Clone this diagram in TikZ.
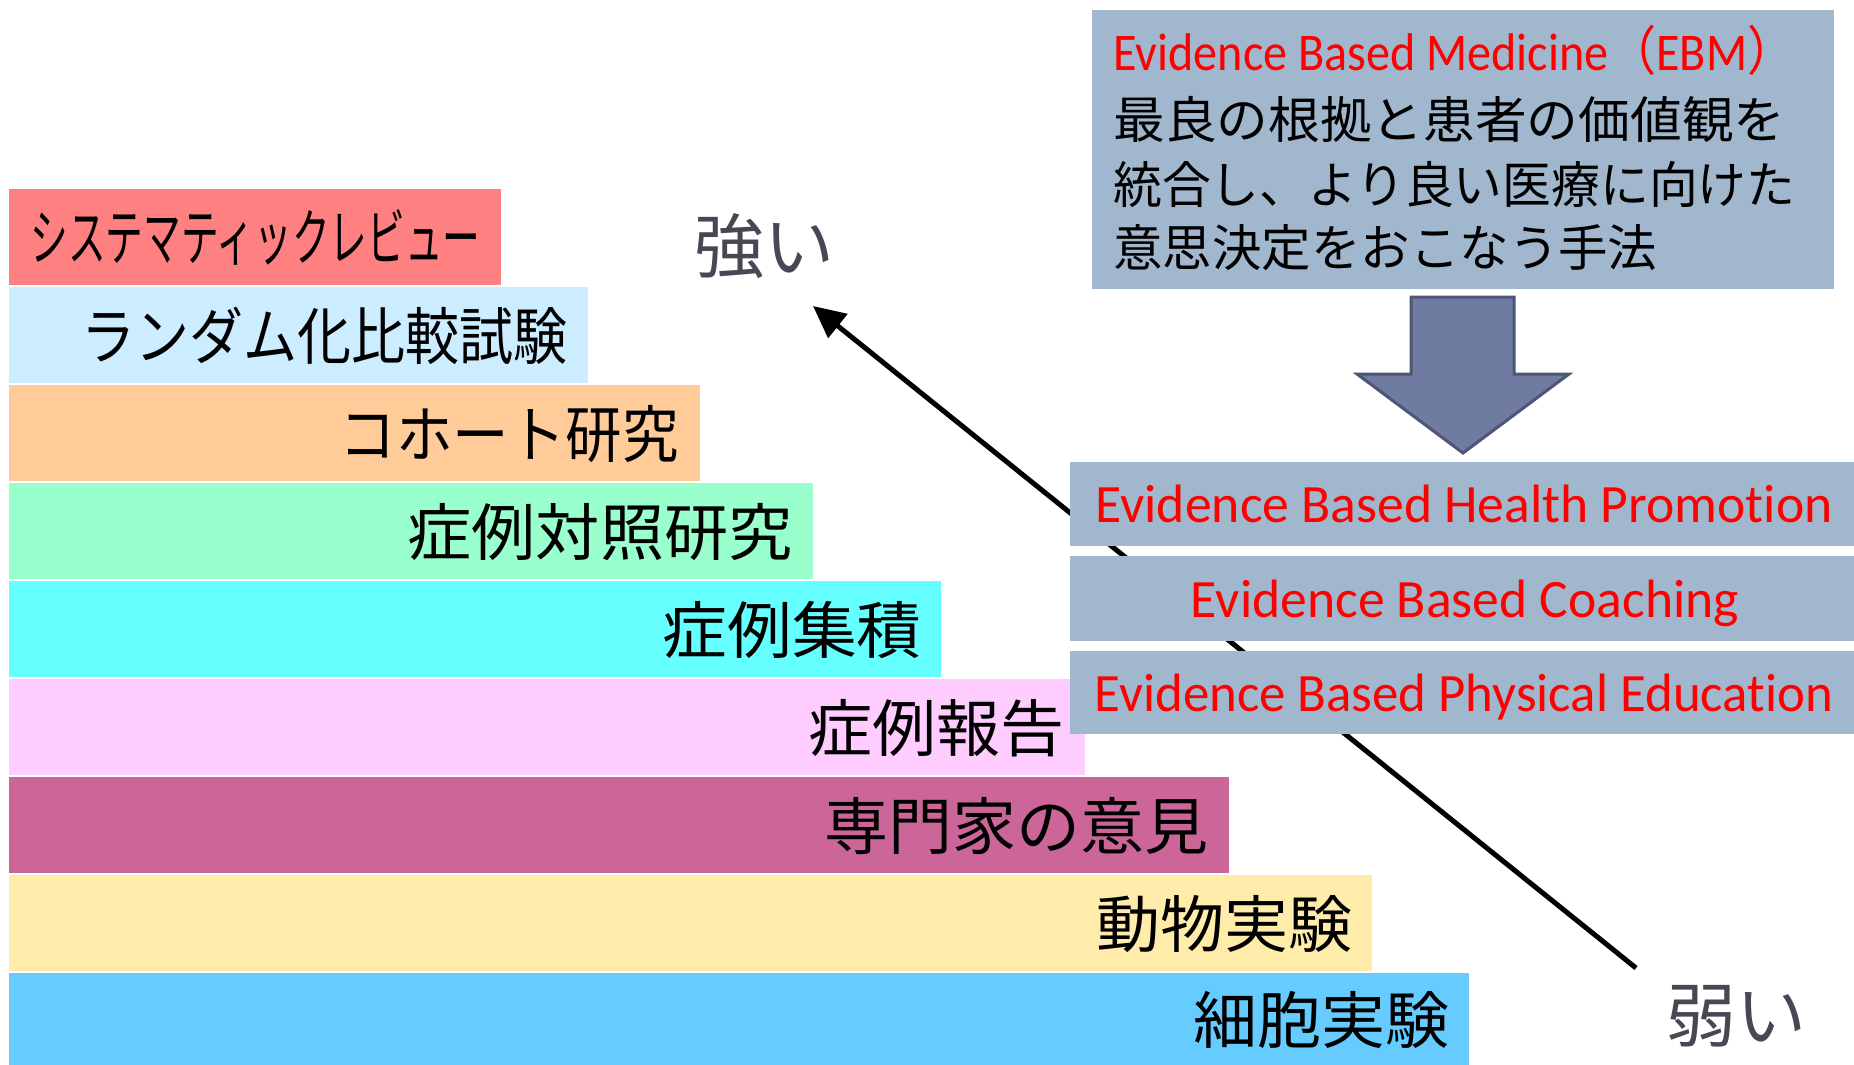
\documentclass[tikz,border=0pt]{standalone}
\usepackage{fontspec}
\usepackage{graphicx}
\newfontfamily\jp{Noto Sans CJK JP}
\newfontfamily\lat[Ligatures=NoCommon,RawFeature={-liga;-dlig}]{Carlito}
\usetikzlibrary{calc,arrows.meta}
\newcommand{\fitto}[2]{\resizebox{#1}{\height}{#2}}
\definecolor{cA}{HTML}{FF8080}
\definecolor{cB}{HTML}{CCECFF}
\definecolor{cC}{HTML}{FFCC99}
\definecolor{cD}{HTML}{99FFCC}
\definecolor{cE}{HTML}{66FFFF}
\definecolor{cF}{HTML}{FFCCFF}
\definecolor{cG}{HTML}{CC6699}
\definecolor{cH}{HTML}{FFECAA}
\definecolor{cI}{HTML}{66CCFF}
\definecolor{boxblue}{HTML}{A1B7CD}
\definecolor{arrfill}{HTML}{6F7BA0}
\definecolor{arrline}{HTML}{4D5677}
\definecolor{strgray}{HTML}{484854}
\begin{document}
\begin{tikzpicture}[x=0.5pt,y=-0.5pt,
  bar/.style={rectangle,inner sep=0pt,outer sep=0pt,anchor=north west,minimum height=48pt},
  barlbl/.style={inner sep=0pt,anchor=base east,text=black,font=\jp\fontsize{31pt}{31pt}\selectfont},
  bluebox/.style={rectangle,fill=boxblue,inner sep=0pt,outer sep=0pt,anchor=north west},
  redlbl/.style={inner sep=0pt,text=red,font=\lat\fontsize{27pt}{27pt}\selectfont},
  ebmline/.style={inner sep=0pt,anchor=base west,text=black,font=\jp\fontsize{25pt}{25pt}\selectfont},
  grade/.style={inner sep=0pt,anchor=base west,text=strgray,font=\jp\fontsize{35pt}{35pt}\selectfont},
  trend/.style={line width=2.5pt,-{Triangle[length=16pt,width=15pt]}},
  downarrow/.style={fill=arrfill,draw=arrline,line width=1.5pt,line join=miter}]
\useasboundingbox (0,0) rectangle (1854,1065);

% evidence hierarchy bars
\node[bar,fill=cA,minimum width=246pt] (b1) at (9,189) {};
\node[bar,fill=cB,minimum width=289.5pt] (b2) at (9,287) {};
\node[bar,fill=cC,minimum width=345.5pt] (b3) at (9,385) {};
\node[bar,fill=cD,minimum width=402pt] (b4) at (9,483) {};
\node[bar,fill=cE,minimum width=466pt] (b5) at (9,581) {};
\node[bar,fill=cF,minimum width=538pt] (b6) at (9,679) {};
\node[bar,fill=cG,minimum width=610pt] (b7) at (9,777) {};
\node[bar,fill=cH,minimum width=681.5pt] (b8) at (9,875) {};
\node[bar,fill=cI,minimum width=730pt,minimum height=46pt] (b9) at (9,973) {};

\node[barlbl] (t1) at ($(b1.east)+(-20,24)$) {\fitto{225pt}{システマティックレビュー}};
\node[barlbl] (t2) at ($(b2.east)+(-20,24)$) {\fitto{243pt}{ランダム化比較試験}};
\node[barlbl] (t3) at ($(b3.east)+(-21,24)$) {\fitto{169.5pt}{コホート研究}};
\node[barlbl] (t4) at ($(b4.east)+(-20,24)$) {\fitto{192.5pt}{症例対照研究}};
\node[barlbl] (t5) at ($(b5.east)+(-19,24)$) {\fitto{129.5pt}{症例集積}};
\node[barlbl] (t6) at ($(b6.east)+(-20,24)$) {\fitto{128pt}{症例報告}};
\node[barlbl] (t7) at ($(b7.east)+(-20,24)$) {\fitto{192pt}{専門家の意見}};
\node[barlbl] (t8) at ($(b8.east)+(-19,24)$) {\fitto{128pt}{動物実験}};
\node[barlbl] (t9) at ($(b9.east)+(-19,24)$) {\fitto{128pt}{細胞実験}};

% strong / weak labels and trend arrow
\node[grade] (strong) at (694,272) {強い};
\node[grade] (weak) at (1666,1041) {弱い};
\coordinate (wk) at (1636,968);
\coordinate (st) at (813,306);
\draw[trend] (wk) -- (st);

% EBM box
\node[bluebox,minimum width=371pt,minimum height=139.5pt] (ebm) at (1092,10) {};
\node[redlbl,anchor=base west,font=\lat\fontsize{26.5pt}{26.5pt}\selectfont] (ebmtitle) at (1113,71)
  {\fitto{341pt}{Evidence Based Medicine{\jp （}EBM{\jp ）}}};
\node[ebmline] (ebm1) at (1113,139) {\fitto{336pt}{最良の根拠と患者の価値観を}};
\node[ebmline] (ebm2) at (1113,203) {\fitto{341pt}{統合し、より良い医療に向けた}};
\node[ebmline] (ebm3) at (1113,266) {\fitto{272pt}{意思決定をおこなう手法}};

% block arrow
\draw[downarrow] (1411,297) -- (1514,297) -- (1514,374) -- (1569,374) -- (1463,453)
  -- (1357,374) -- (1411,374) -- cycle;

% applied fields
\node[bluebox,minimum width=392pt,minimum height=42pt] (ebhp) at (1070,462) {};
\node[bluebox,minimum width=392pt,minimum height=42.5pt] (ebc) at (1070,556) {};
\node[bluebox,minimum width=392pt,minimum height=41.5pt] (ebpe) at (1070,651) {};
\node[redlbl,anchor=base] (ebhpt) at ($(ebhp.center)+(2,18)$) {\fitto{368.5pt}{Evidence Based Health Promotion}};
\node[redlbl,anchor=base] (ebct) at ($(ebc.center)+(3,18.5)$) {\fitto{274pt}{Evidence Based Coaching}};
\node[redlbl,anchor=base] (ebpet) at ($(ebpe.center)+(2,18.5)$) {\fitto{369pt}{Evidence Based Physical Education}};
\end{tikzpicture}
\end{document}
